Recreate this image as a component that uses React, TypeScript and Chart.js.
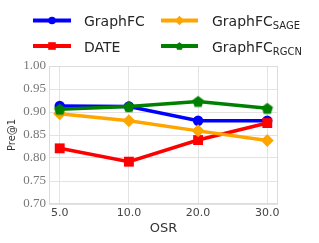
import React, { useEffect, useRef } from "react";
import { Chart, registerables } from "chart.js";

Chart.register(...registerables);

const categories = ["5.0", "10.0", "20.0", "30.0"];
const graphFC = [0.913, 0.912, 0.881, 0.881];
const date = [0.821, 0.792, 0.839, 0.876];
const graphFCSage = [0.896, 0.881, 0.859, 0.838];
const graphFCRgcn = [0.906, 0.912, 0.923, 0.908];
const yTicks = [0.7, 0.75, 0.8, 0.85, 0.9, 0.95, 1.0];

const BLUE = "#0000ff";
const RED = "#ff0000";
const ORANGE = "#ffa500";
const GREEN = "#008000";

function pentagonPath(ctx: CanvasRenderingContext2D, cx: number, cy: number, r: number) {
  ctx.beginPath();
  for (let i = 0; i < 5; i++) {
    const a = -Math.PI / 2 + (i * 2 * Math.PI) / 5;
    const x = cx + r * Math.cos(a);
    const y = cy + r * Math.sin(a);
    if (i === 0) ctx.moveTo(x, y);
    else ctx.lineTo(x, y);
  }
  ctx.closePath();
}

function makePentagon(r: number, color: string) {
  const c = document.createElement("canvas");
  const s = Math.ceil(r * 2 + 2);
  c.width = s;
  c.height = s;
  const ctx = c.getContext("2d")!;
  ctx.fillStyle = color;
  pentagonPath(ctx, s / 2, s / 2 + r * 0.1, r);
  ctx.fill();
  return c;
}

type LegendItem = { label: string; sub?: string; color: string; marker: string };
const legendItems: LegendItem[] = [
  { label: "GraphFC", color: BLUE, marker: "circle" },
  { label: "GraphFC", sub: "SAGE", color: ORANGE, marker: "diamond" },
  { label: "DATE", color: RED, marker: "square" },
  { label: "GraphFC", sub: "RGCN", color: GREEN, marker: "pentagon" },
];

const legendPlugin = {
  id: "customLegend",
  afterDraw(chart: any) {
    const ctx: CanvasRenderingContext2D = chart.ctx;
    ctx.save();
    const cols = [
      { x0: 33, x1: 71, tx: 84 },
      { x0: 161, x1: 198, tx: 212 },
    ];
    const rows = [20.5, 46];
    legendItems.forEach((it, i) => {
      const col = cols[i % 2];
      const y = rows[Math.floor(i / 2)];
      ctx.strokeStyle = it.color;
      ctx.lineWidth = 4;
      ctx.lineCap = "butt";
      ctx.beginPath();
      ctx.moveTo(col.x0, y);
      ctx.lineTo(col.x1, y);
      ctx.stroke();
      const mx = (col.x0 + col.x1) / 2;
      ctx.fillStyle = it.color;
      if (it.marker === "circle") {
        ctx.beginPath();
        ctx.arc(mx, y, 3.8, 0, Math.PI * 2);
        ctx.fill();
      } else if (it.marker === "square") {
        ctx.fillRect(mx - 3.8, y - 3.8, 7.6, 7.6);
      } else if (it.marker === "diamond") {
        ctx.beginPath();
        ctx.moveTo(mx - 4.8, y);
        ctx.lineTo(mx, y - 4.8);
        ctx.lineTo(mx + 4.8, y);
        ctx.lineTo(mx, y + 4.8);
        ctx.closePath();
        ctx.fill();
      } else {
        pentagonPath(ctx, mx, y + 0.4, 4.2);
        ctx.fill();
      }
      ctx.fillStyle = "#262626";
      ctx.textBaseline = "alphabetic";
      ctx.textAlign = "left";
      ctx.font = '14px "DejaVu Sans"';
      const by = y + 5.5;
      ctx.fillText(it.label, col.tx, by);
      if (it.sub) {
        const w = ctx.measureText(it.label).width;
        ctx.font = '10px "DejaVu Sans"';
        ctx.fillText(it.sub, col.tx + w, by + 3);
      }
    });
    ctx.restore();
  },
};

const borderPlugin = {
  id: "plotBorder",
  afterDatasetsDraw() {},
  beforeDatasetsDraw(chart: any) {
    const { ctx, chartArea } = chart;
    ctx.save();
    ctx.strokeStyle = "#dcdcdc";
    ctx.lineWidth = 1;
    ctx.strokeRect(
      Math.round(chartArea.left) + 0.5,
      Math.round(chartArea.top) + 0.5,
      Math.round(chartArea.right - chartArea.left) - 1,
      Math.round(chartArea.bottom - chartArea.top) - 1
    );
    ctx.restore();
  },
};

export default function App() {
  const ref = useRef<HTMLCanvasElement | null>(null);
  useEffect(() => {
    if (!ref.current) return;
    const pent = makePentagon(6, GREEN);
    const toPts = (arr: number[]) => arr.map((v, i) => ({ x: i, y: v }));
    const ds = (label: string, data: number[], color: string, style: any, radius: number, order: number) => ({
      label,
      data: toPts(data),
      borderColor: color,
      backgroundColor: color,
      borderWidth: 3.5,
      pointStyle: style,
      pointRadius: radius,
      pointBorderWidth: 0,
      pointBackgroundColor: color,
      pointBorderColor: color,
      tension: 0,
      order,
    });
    const chart = new Chart(ref.current, {
      type: "line",
      data: {
        datasets: [
          ds("GraphFC", graphFC, BLUE, "circle", 5.2, 3),
          ds("DATE", date, RED, "rect", 7, 2),
          ds("GraphFC_SAGE", graphFCSage, ORANGE, "rectRot", 6.5, 1),
          ds("GraphFC_RGCN", graphFCRgcn, GREEN, pent, 6, 0),
        ],
      },
      options: {
        animation: false,
        responsive: false,
        maintainAspectRatio: false,
        layout: { padding: { top: 66, right: 41, left: 0, bottom: 0 } },
        plugins: { legend: { display: false }, tooltip: { enabled: false } },
        scales: {
          x: {
            type: "linear",
            min: -0.155,
            max: 3.155,
            afterFit: (s: any) => {
              s.height = 39;
            },
            afterBuildTicks: (s: any) => {
              s.ticks = categories.map((_, i) => ({ value: i }));
            },
            ticks: {
              callback: (v: any) => categories[Math.round(Number(v))] ?? "",
              color: "#444",
              font: { family: "DejaVu Sans", size: 11 },
              padding: 3,
              maxRotation: 0,
              autoSkip: false,
            },
            grid: { color: "#e3e3e3", drawTicks: false, lineWidth: 1 },
            border: { display: false },
            title: {
              display: true,
              text: "OSR",
              color: "#333",
              font: { family: "DejaVu Sans", size: 13 },
              padding: { top: 0, bottom: 7 },
            },
          },
          y: {
            type: "linear",
            min: 0.7,
            max: 1.0,
            afterFit: (s: any) => {
              s.width = 49;
            },
            afterBuildTicks: (s: any) => {
              s.ticks = yTicks.map((v) => ({ value: v }));
            },
            ticks: {
              callback: (v: any) => Number(v).toFixed(2),
              color: "#777",
              font: { family: "Liberation Serif", size: 13 },
              padding: 3,
            },
            grid: { color: "#e3e3e3", drawTicks: false, lineWidth: 1 },
            border: { display: false },
            title: {
              display: true,
              text: "Pre@1",
              color: "#333",
              font: { family: "DejaVu Sans Condensed, DejaVu Sans", size: 11 },
              padding: { top: 6, bottom: 0 },
            },
          },
        },
      },
      plugins: [borderPlugin, legendPlugin],
    });
    return () => chart.destroy();
  }, []);
  return (
    <div style={{ position: "fixed", left: 0, top: 0, width: 319, height: 243, background: "#fff" }}>
      <canvas ref={ref} width={319} height={243} style={{ width: 319, height: 243, display: "block" }} />
    </div>
  );
}
